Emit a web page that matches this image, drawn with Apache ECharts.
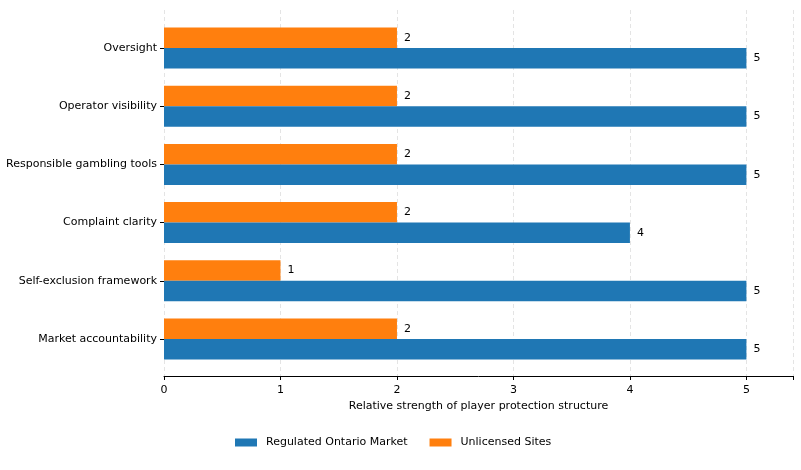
<!DOCTYPE html>
<html>
<head>
<meta charset="utf-8">
<script src="https://cdn.jsdelivr.net/npm/echarts@6/dist/echarts.min.js"></script>
<style>html,body{margin:0;padding:0;background:#fff}#c{width:801px;height:470px}</style>
</head>
<body>
<div id="c"></div>
<script>
const categories = ["Oversight", "Operator visibility", "Responsible gambling tools", "Complaint clarity", "Self-exclusion framework", "Market accountability"];
const regulated = [5, 5, 5, 4, 5, 5];
const unlicensed = [2, 2, 2, 2, 1, 2];
const xTicks = [0, 1, 2, 3, 4, 5];
const seriesNames = ["Regulated Ontario Market", "Unlicensed Sites"];
const xTitle = "Relative strength of player protection structure";

const FONT = "DejaVu Sans";
const FS = 11;
const chart = echarts.init(document.getElementById('c'), null, {renderer: 'canvas'});
const lbl = {show: true, position: 'right', distance: 7, color: '#000', fontSize: FS, fontFamily: FONT};
chart.setOption({
  animation: false,
  textStyle: {fontFamily: FONT},
  grid: [
    {left: 164, right: 8, top: 19, bottom: 102, containLabel: false, outerBoundsMode: 'none'},
    {left: 164, right: 8, top: 10, bottom: 94, containLabel: false, outerBoundsMode: 'none'}
  ],
  xAxis: [
    {
      type: 'value', gridIndex: 0, min: 0, max: 5.4, interval: 1, offset: 8,
      name: xTitle, nameLocation: 'middle', nameGap: 25,
      nameTextStyle: {color: '#000', fontSize: FS, fontFamily: FONT},
      axisLine: {show: true, lineStyle: {color: '#000', width: 1}},
      axisTick: {show: true, length: 4, lineStyle: {color: '#000'}},
      axisLabel: {color: '#000', fontSize: FS, fontFamily: FONT, margin: 9,
        formatter: v => xTicks.includes(v) ? String(v) : ''},
      splitLine: {show: false}
    },
    {
      type: 'value', gridIndex: 1, min: 0, max: 5.4, interval: 1,
      axisLine: {show: false}, axisTick: {show: false}, axisLabel: {show: false},
      splitLine: {show: true, lineStyle: {color: '#dddddd', type: [4, 3], width: 0.8}}
    }
  ],
  yAxis: [
    {
      type: 'category', gridIndex: 0, data: categories, inverse: true,
      axisLine: {show: false},
      axisTick: {show: true, alignWithLabel: true, length: 4, lineStyle: {color: '#000'}},
      axisLabel: {color: '#000', fontSize: FS, fontFamily: FONT, margin: 7},
      splitLine: {show: false}
    },
    {type: 'value', gridIndex: 1, show: false, min: 0, max: 1}
  ],
  legend: {
    top: 437, left: 235, padding: 0, icon: 'rect', itemWidth: 22, itemHeight: 8, itemGap: 22,
    data: seriesNames,
    textStyle: {color: '#000', fontSize: FS, fontFamily: FONT, padding: [0, 0, 0, 4]}
  },
  series: [
    {name: seriesNames[1], type: 'bar', data: unlicensed, barWidth: 20.5, barGap: '0%',
     itemStyle: {color: '#ff7f0e'}, label: lbl},
    {name: seriesNames[0], type: 'bar', data: regulated, barWidth: 20.5, barGap: '0%',
     itemStyle: {color: '#1f77b4'}, label: lbl}
  ]
});
</script>
</body>
</html>
